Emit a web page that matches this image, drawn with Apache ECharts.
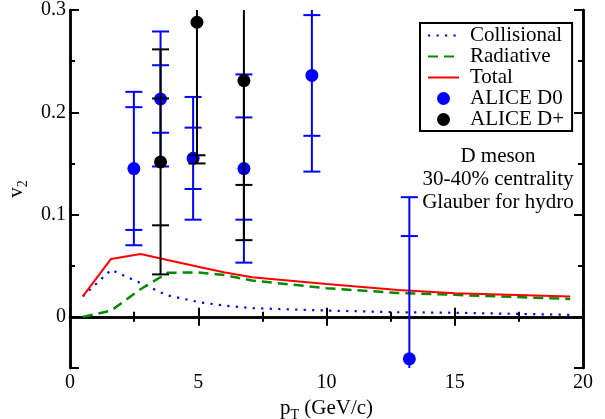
<!DOCTYPE html>
<html><head><meta charset="utf-8">
<script src="https://cdn.jsdelivr.net/npm/echarts@6/dist/echarts.min.js"></script>
<style>html,body{margin:0;padding:0;background:#fff}#c{width:605px;height:419px}</style>
</head><body><div id="c"></div>
<script>
// Theory curves (pT in GeV/c)
const pT = [0.5, 1.6, 2.75, 3.8, 5.0, 6.0, 7.1, 10.0, 12.8, 15.0, 19.5];
const collisional = [0.020, 0.046, 0.033, 0.021, 0.0145, 0.011, 0.0085, 0.0062, 0.0045, 0.0040, 0.0020];
const radiative   = [0.000, 0.006, 0.027, 0.043, 0.0435, 0.041, 0.0355, 0.028, 0.0233, 0.0215, 0.0175];
const total       = [0.020, 0.0566, 0.0615, 0.0556, 0.049, 0.0436, 0.0388, 0.0322, 0.0262, 0.0232, 0.0200];
// ALICE D0
const d0PT     = [2.49, 3.53, 4.80, 6.78, 9.43, 13.23];
const d0V2     = [0.145, 0.213, 0.155, 0.145, 0.236, -0.041];
const d0ErrIn  = [0.060, 0.033, 0.030, 0.050, 0.059, 0.120];
const d0ErrOut = [0.075, 0.066, 0.060, 0.092, 0.094, 0.158];
// ALICE D+
const dpPT     = [3.53, 4.95, 6.78];
const dpV2     = [0.1515, 0.288, 0.231];
const dpErrIn  = [0.062, 0.130, 0.102];
const dpErrOut = [0.110, 0.138, 0.156];
// tick labels
const xLabels = ['0', '5', '10', '15', '20'];
const yLabels = ['0', '0.1', '0.2', '0.3'];

const FONT = 'Liberation Serif';
const zip = (a, b) => a.map((v, i) => [v, b[i]]);
const zipErr = (x, y, ei, eo) => x.map((v, i) => [v, y[i], ei[i], eo[i]]);

function errRender(params, api) {
  const x = api.value(0), y = api.value(1), ein = api.value(2), eout = api.value(3);
  const color = api.visual('color');
  const capHalf = 8.5;
  const c = api.coord([x, y]);
  const top = api.coord([x, y + eout]), bot = api.coord([x, y - eout]);
  const children = [{type: 'line', shape: {x1: c[0], y1: top[1], x2: c[0], y2: bot[1]}, style: {stroke: color, lineWidth: 2}}];
  [y + eout, y - eout, y + ein, y - ein].forEach(v => {
    const p = api.coord([x, v]);
    children.push({type: 'line', shape: {x1: p[0] - capHalf, y1: p[1], x2: p[0] + capHalf, y2: p[1]}, style: {stroke: color, lineWidth: 2}});
  });
  return {type: 'group', children};
}

const axisLine = {show: true, lineStyle: {color: '#000', width: 2.5}};
const xBase = {
  type: 'value', min: 0, max: 20, interval: 5,
  axisLine, splitLine: {show: false},
  axisTick: {inside: true, length: 9, lineStyle: {color: '#000', width: 2}},
  minorTick: {show: true, splitNumber: 2, length: 5, lineStyle: {color: '#000', width: 2}},
  minorSplitLine: {show: false}
};
const yMinor = {
  type: 'value', min: -0.05, max: 0.3, interval: 0.05,
  axisLine, splitLine: {show: false},
  axisTick: {inside: true, length: 5, lineStyle: {color: '#000', width: 2}},
  axisLabel: {show: false}
};
const yMajor = {
  type: 'value', min: -0.05, max: 0.3, splitNumber: 4,
  axisLine, splitLine: {show: false},
  axisTick: {inside: true, length: 9, lineStyle: {color: '#000', width: 2}},
  axisLabel: {show: false}
};
const nameRich = {
  a: {fontFamily: FONT, fontSize: 21, verticalAlign: 'middle', color: '#000'},
  b: {fontFamily: FONT, fontSize: 14, verticalAlign: 'middle', padding: [14, 0, 0, 0], color: '#000'}
};

const chart = echarts.init(document.getElementById('c'), null, {renderer: 'canvas'});
chart.setOption({
  animation: false,
  backgroundColor: '#fff',
  grid: {left: 70, right: 22, top: 10, bottom: 51, containLabel: false, outerBoundsMode: 'none'},
  xAxis: [
    Object.assign({}, xBase, {
      position: 'bottom',
      axisLabel: {show: true, color: '#000', fontFamily: FONT, fontSize: 20, margin: 5,
        formatter: v => { const s = String(Math.round(v)); return xLabels.includes(s) ? s : ''; }},
      name: '{a|p}{b|T}{a| (GeV/c)}', nameLocation: 'middle', nameGap: 23,
      nameTextStyle: {color: '#000', fontFamily: FONT, rich: nameRich}
    }),
    Object.assign({}, xBase, {position: 'top', axisLabel: {show: false}})
  ],
  yAxis: [
    Object.assign({}, yMinor, {position: 'left'}),
    Object.assign({}, yMajor, {
      position: 'left',
      axisLabel: {show: true, color: '#000', fontFamily: FONT, fontSize: 20, margin: 4,
        formatter: v => { const r = Math.round(v * 10) / 10; if (Math.abs(v - r) > 1e-6) return ''; const s = String(r); return yLabels.includes(s) ? s : ''; }},
      name: '{a|v}{b|2}', nameLocation: 'middle', nameGap: 27, nameRotate: 90,
      nameTextStyle: {color: '#000', fontFamily: FONT, rich: nameRich}
    }),
    Object.assign({}, yMinor, {position: 'right'}),
    Object.assign({}, yMajor, {position: 'right'})
  ],
  legend: {
    data: [
      {name: 'Collisional', itemStyle: {opacity: 0}},
      {name: 'Radiative', itemStyle: {opacity: 0}},
      {name: 'Total', itemStyle: {opacity: 0}},
      'ALICE D0', 'ALICE D+'],
    orient: 'vertical', left: 420, top: 23,
    itemWidth: 31, itemHeight: 13, itemGap: 0,
    padding: [2, 8, 1, 7],
    borderColor: '#000', borderWidth: 2, backgroundColor: '#fff',
    selectedMode: false,
    textStyle: {fontFamily: FONT, fontSize: 21, lineHeight: 20, color: '#000', padding: [0, 0, 0, 6]}
  },
  graphic: [{
    type: 'text', x: 498, y: 145,
    style: {text: 'D meson\n30-40% centrality\nGlauber for hydro', textAlign: 'center', textVerticalAlign: 'top',
      fontFamily: FONT, fontSize: 21, lineHeight: 23, fill: '#000'}
  }],
  series: [
    {name: 'Collisional', type: 'line', data: zip(pT, collisional), symbol: 'none', z: 3,
     lineStyle: {color: '#0000ff', width: 2.2, type: [2.2, 6.3], cap: 'butt'}, itemStyle: {color: '#0000ff'}},
    {name: 'Radiative', type: 'line', data: zip(pT, radiative), symbol: 'none', z: 3,
     lineStyle: {color: '#008b00', width: 2.5, type: [10, 6]}, itemStyle: {color: '#008b00'}},
    {name: 'Total', type: 'line', data: zip(pT, total), symbol: 'none', z: 3,
     lineStyle: {color: '#ff0000', width: 2}, itemStyle: {color: '#ff0000'}},
    {name: 'D0 errors', type: 'custom', renderItem: errRender, data: zipErr(d0PT, d0V2, d0ErrIn, d0ErrOut),
     itemStyle: {color: '#0000ff'}, clip: true, z: 4, encode: {x: 0, y: 1}},
    {name: 'ALICE D0', type: 'scatter', data: zip(d0PT, d0V2), symbol: 'circle', symbolSize: 13, z: 5,
     itemStyle: {color: '#0000ff', opacity: 1}, clip: true},
    {name: 'D+ errors', type: 'custom', renderItem: errRender, data: zipErr(dpPT, dpV2, dpErrIn, dpErrOut),
     itemStyle: {color: '#000'}, clip: true, z: 6, encode: {x: 0, y: 1}},
    {name: 'ALICE D+', type: 'scatter', data: zip(dpPT, dpV2), symbol: 'circle', symbolSize: 13, z: 7,
     itemStyle: {color: '#000', opacity: 1}, clip: true}
  ]
});
</script>
</body></html>
